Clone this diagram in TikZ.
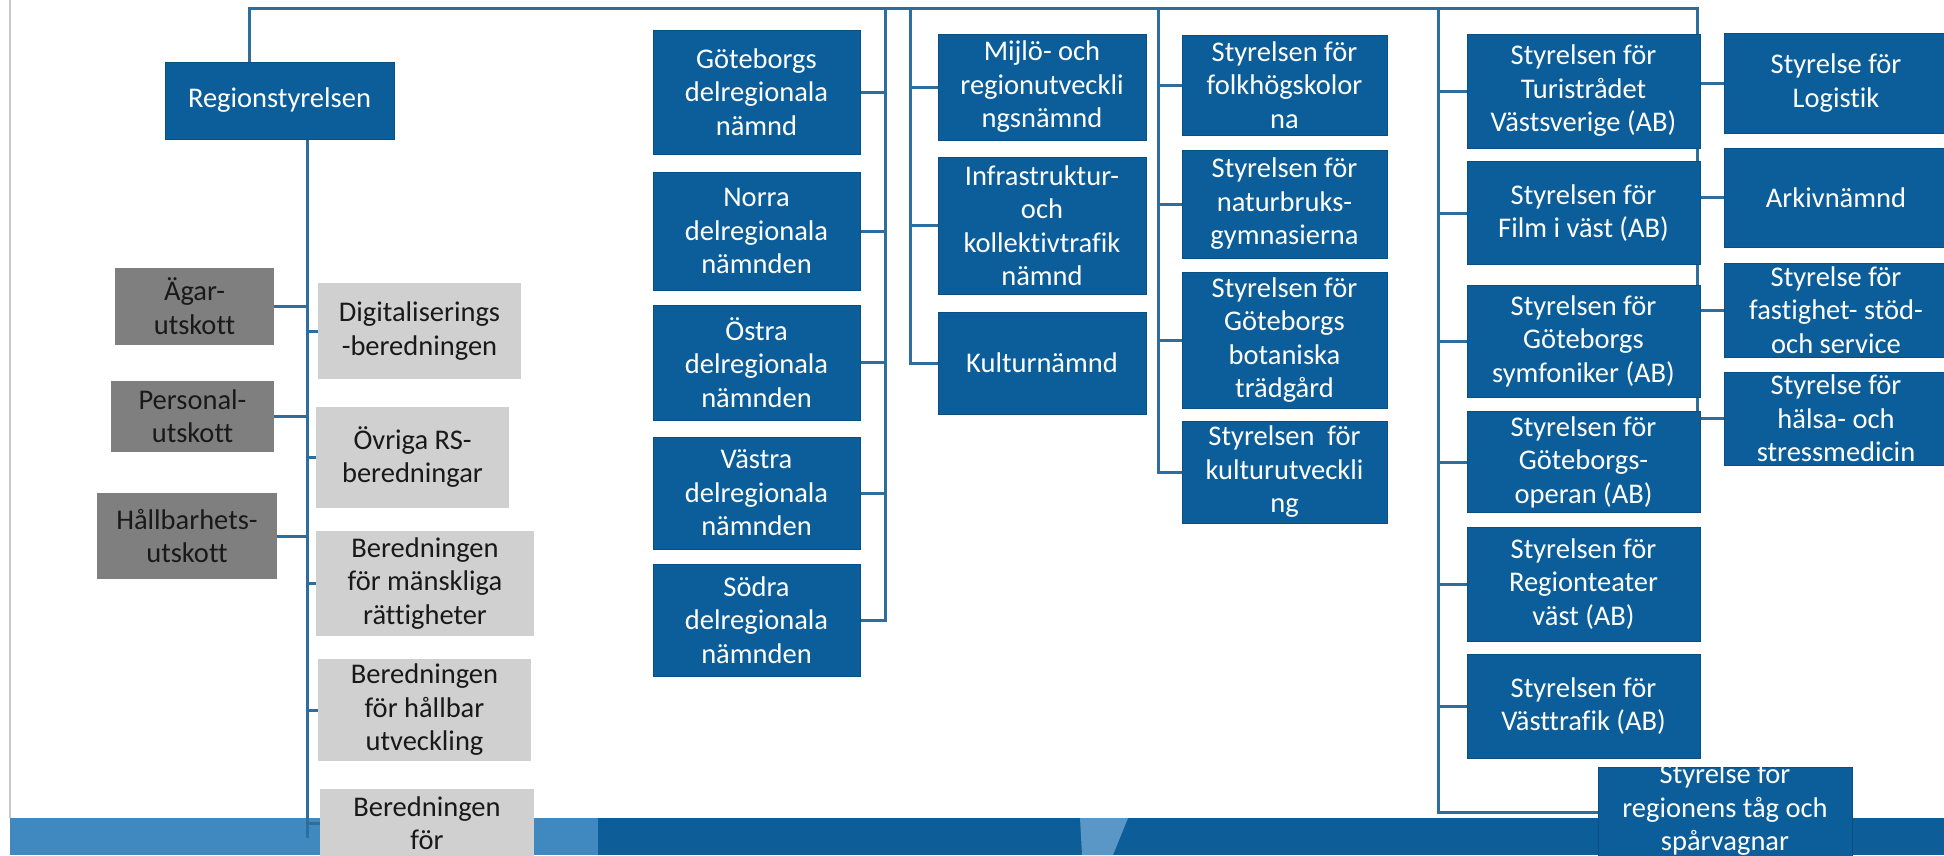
\documentclass[tikz,border=0pt]{standalone}
\usepackage{fontspec}
\setmainfont[Ligatures={NoCommon}]{Carlito}
\definecolor{boxblue}{HTML}{0B5E99}
\definecolor{boxedge}{HTML}{0A4F82}
\definecolor{linkblue}{HTML}{2E6E9E}
\definecolor{darkgrey}{HTML}{7F7F7F}
\definecolor{lightgrey}{HTML}{D0D0D0}
\definecolor{bandlight}{HTML}{3F89C0}
\definecolor{banddark}{HTML}{0C5D98}
\definecolor{bandstripe}{HTML}{5A97C6}
\definecolor{slideedge}{HTML}{C8C8C8}
\pgfdeclarelayer{bandlayer}
\pgfdeclarelayer{linklayer}
\pgfsetlayers{bandlayer,linklayer,main}
\begin{document}
\begin{tikzpicture}[x=1pt,y=-1pt,
  base/.style={rectangle, inner sep=0pt, align=center,
    font=\fontsize{28.5}{33.5}\selectfont},
  bluebox/.style={base, fill=boxblue, draw=boxedge, line width=1pt, text=white},
  dgbox/.style={base, fill=darkgrey, text=black!90},
  lgbox/.style={base, fill=lightgrey, text=black!90},
  link/.style={draw=linkblue, line width=3pt},
  boxtext/.style={base, text=white}]
\useasboundingbox (0,0) rectangle (1944,855);
\begin{pgfonlayer}{bandlayer}
\fill[white] (0,0) rectangle (1944,855);
\fill[banddark] (10,818) rectangle (1944,855);
\fill[bandlight] (10,818) rectangle (598,855);
\fill[bandstripe] (1080,818) -- (1128,818) -- (1113,855) -- (1082,855) -- cycle;
\draw[slideedge, line width=2pt] (10,0) -- (10,818);
\end{pgfonlayer}

% ---------- nodes ----------
\node[bluebox, minimum width=229, minimum height=77] (rs) at (279.5,100.5) {Regionstyrelsen};

\node[dgbox, minimum width=159, minimum height=77] (agar) at (194.5,306) {Ägar-\\utskott};
\node[dgbox, minimum width=163, minimum height=71] (pers) at (192.5,416) {Personal-\\utskott};
\node[dgbox, minimum width=180, minimum height=86] (hallb) at (187,536) {Hållbarhets-\\utskott};

\node[lgbox, minimum width=203, minimum height=96] (digi) at (419.5,331) {Digitaliserings\\-beredningen};
\node[lgbox, minimum width=193, minimum height=101] (ovr) at (412.5,457) {Övriga RS-\\beredningar};
\node[lgbox, minimum width=218, minimum height=105] (mansk) at (425,583.5) {Beredningen\\för mänskliga\\rättigheter};
\node[lgbox, minimum width=213, minimum height=102] (hutv) at (424.5,710) {Beredningen\\för hållbar\\utveckling};
\node[lgbox, minimum width=214, minimum height=68] (bfor) at (427,823) {Beredningen\\för};

\node[bluebox, minimum width=207, minimum height=124] (gbg) at (756.5,92) {Göteborgs\\delregionala\\nämnd};
\node[bluebox, minimum width=207, minimum height=118] (norra) at (756.5,231) {Norra\\delregionala\\nämnden};
\node[bluebox, minimum width=207, minimum height=115] (ostra) at (756.5,362.5) {Östra\\delregionala\\nämnden};
\node[bluebox, minimum width=207, minimum height=112] (vastra) at (756.5,493) {Västra\\delregionala\\nämnden};
\node[bluebox, minimum width=207, minimum height=112] (sodra) at (756.5,620) {Södra\\delregionala\\nämnden};

\node[bluebox, minimum width=208, minimum height=106] (miljo) at (1042,87) {Mijlö- och\\regionutveckli\\ngsnämnd};
\node[bluebox, minimum width=208, minimum height=137] (infra) at (1042,225.5) {Infrastruktur-\\och\\kollektivtrafik\\nämnd};
\node[bluebox, minimum width=208, minimum height=102] (kultur) at (1042,363) {Kulturnämnd};

\node[bluebox, minimum width=205, minimum height=100] (folk) at (1284.5,85) {Styrelsen för\\folkhögskolor\\na};
\node[bluebox, minimum width=205, minimum height=108] (natur) at (1284.5,204) {Styrelsen för\\naturbruks-\\gymnasierna};
\node[bluebox, minimum width=205, minimum height=136] (bota) at (1284.5,340) {Styrelsen för\\Göteborgs\\botaniska\\trädgård};
\node[bluebox, minimum width=205, minimum height=102] (kutv) at (1284.5,472) {Styrelsen\ \ för\\kulturutveckli\\ng};

\node[bluebox, minimum width=233, minimum height=114] (turist) at (1583.5,91) {Styrelsen för\\Turistrådet\\Västsverige (AB)};
\node[bluebox, minimum width=233, minimum height=103] (film) at (1583.5,213) {Styrelsen för\\Film i väst (AB)};
\node[bluebox, minimum width=233, minimum height=112] (symf) at (1583.5,341) {Styrelsen för\\Göteborgs\\symfoniker (AB)};
\node[bluebox, minimum width=233, minimum height=101] (opera) at (1583.5,462) {Styrelsen för\\Göteborgs-\\operan (AB)};
\node[bluebox, minimum width=233, minimum height=114] (rteat) at (1583.5,584) {Styrelsen för\\Regionteater\\väst (AB)};
\node[bluebox, minimum width=233, minimum height=104] (vtraf) at (1583.5,706) {Styrelsen för\\Västtrafik (AB)};
\node[bluebox, minimum width=254, minimum height=90] (sparv) at (1725,812) {};
\begin{scope}
  \clip (sparv.south west) rectangle (sparv.north east);
  \node[boxtext] (sparvtext) at (1725,810) {Styrelse för\\regionens tåg och\\spårvagnar};
\end{scope}

\node[bluebox, minimum width=223, minimum height=100] (logi) at (1836,83) {Styrelse för\\Logistik};
\node[bluebox, minimum width=223, minimum height=99] (arkiv) at (1836,197.5) {Arkivnämnd};
\node[bluebox, minimum width=223, minimum height=94] (fast) at (1836,310) {Styrelse för\\fastighet- stöd-\\och service};
\node[bluebox, minimum width=223, minimum height=93] (halsa) at (1836,418.5) {Styrelse för\\hälsa- och\\stressmedicin};

% ---------- coordinates for trunk lines ----------
\coordinate (topL) at (249,8);
\coordinate (topR) at (1697,8);
\coordinate (t1) at (307,838);
\coordinate (c2) at (885,8);
\coordinate (c3) at (910,8);
\coordinate (c4) at (1158,8);
\coordinate (c5) at (1438,8);

% ---------- connectors (behind the boxes) ----------
\begin{pgfonlayer}{linklayer}
\draw[link] (rs.north -| topL) -- (topL) -- (topR) -- (topR |- halsa.west);
\draw[link] (rs.south -| t1) -- (t1);
\foreach \n in {agar,pers,hallb} \draw[link] (\n.east) -- (\n.east -| t1);
\foreach \n in {digi,ovr,mansk,hutv,bfor} \draw[link] (\n.west) -- (\n.west -| t1);
\draw[link] (c2) -- (c2 |- sodra.east) -- (sodra.east);
\foreach \n in {gbg,norra,ostra,vastra} \draw[link] (\n.east) -- (\n.east -| c2);
\draw[link] (c3) -- (c3 |- kultur.west) -- (kultur.west);
\foreach \n in {miljo,infra} \draw[link] (\n.west) -- (\n.west -| c3);
\draw[link] (c4) -- (c4 |- kutv.west) -- (kutv.west);
\foreach \n in {folk,natur,bota} \draw[link] (\n.west) -- (\n.west -| c4);
\draw[link] (c5) -- (c5 |- sparv.west) -- (sparv.west);
\foreach \n in {turist,film,symf,opera,rteat,vtraf} \draw[link] (\n.west) -- (\n.west -| c5);
\foreach \n in {logi,arkiv,fast,halsa} \draw[link] (\n.west) -- (\n.west -| topR);
\end{pgfonlayer}
\end{tikzpicture}
\end{document}
